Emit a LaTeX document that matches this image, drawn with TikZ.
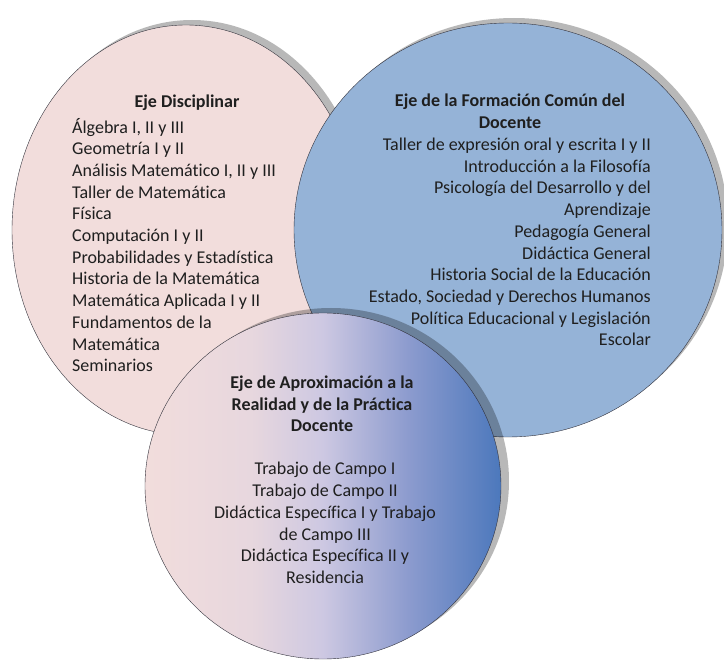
\documentclass[tikz,border=0pt]{standalone}
\usepackage{fontspec}
\setmainfont{Carlito}[Ligatures=NoCommon]
\usetikzlibrary{shapes,shadows}

\definecolor{ejepink}{RGB}{242,221,220}
\definecolor{ejeblue}{RGB}{149,179,215}
\definecolor{ejelav}{RGB}{205,200,226}
\definecolor{ejemid}{RGB}{140,155,206}
\definecolor{ejedark}{RGB}{76,120,188}
\definecolor{ejeline}{RGB}{50,50,60}

\pgfdeclarehorizontalshading{aproxfill}{100bp}{color(0bp)=(ejepink); color(25bp)=(ejepink); color(40bp)=(ejepink!70!ejelav); color(50bp)=(ejelav); color(62bp)=(ejemid); color(75bp)=(ejedark); color(100bp)=(ejedark)}

\tikzset{
  ejetext/.style={font=\fontsize{18}{21.7}\selectfont, text=black!88, inner sep=0pt},
  ejetitle/.style={ejetext, font=\fontsize{18}{21.7}\selectfont\bfseries},
}

\begin{document}
\begin{tikzpicture}[x=1pt, y=-1pt]

    \useasboundingbox[fill=white] (0,0) rectangle (724,663);

    % the three axes
    \node[draw=ejeline,ellipse,fill=ejepink,inner sep=0pt,minimum width=348pt,minimum height=410pt,
          drop shadow={shadow xshift=6pt,shadow yshift=5pt,fill=black,opacity=.28}] (disc) at (186,230) {};
    \node[draw=ejeline,ellipse,fill=ejeblue,inner sep=0pt,minimum width=428pt,minimum height=414pt,
          drop shadow={shadow xshift=6pt,shadow yshift=5pt,fill=black,opacity=.28}] (comun) at (508,230) {};
    \node[draw=ejeline,ellipse,shade,shading=aproxfill,inner sep=0pt,minimum width=356pt,minimum height=346pt,
          drop shadow={shadow xshift=8pt,shadow yshift=5pt,fill=black,opacity=.28}] (aprox) at (323,486) {};

    % Eje Disciplinar
    \node[ejetitle] (dtitle) at (187,103) {Eje Disciplinar};
    \node[ejetext,align=left,anchor=west] (dlist) at (72,245)
      {Álgebra I, II y III\\Geometría I y II\\Análisis Matemático I, II y III\\Taller de Matemática\\Física\\
       Computación I y II\\Probabilidades y Estadística\\Historia de la Matemática\\Matemática Aplicada I y II\\
       Fundamentos de la\\Matemática\\Seminarios};

    % Eje de la Formacion Comun
    \node[ejetitle,align=center] (ctitle) at (510,111) {Eje de la Formación Común del\\Docente};
    \node[ejetext,align=right,anchor=east] (clist) at (651,242)
      {Taller de expresión oral y escrita I y II\\Introducción a la Filosofía\\Psicología del Desarrollo y del\\
       Aprendizaje\\Pedagogía General\\Didáctica General\\Historia Social de la Educación\\
       Estado, Sociedad y Derechos Humanos\\Política Educacional y Legislación\\Escolar};

    % Eje de Aproximacion
    \node[ejetitle,align=center] (atitle) at (322,404) {Eje de Aproximación a la\\Realidad y de la Práctica\\Docente};
    \node[ejetext,align=center] (alist) at (325,523)
      {Trabajo de Campo I\\Trabajo de Campo II\\Didáctica Específica I y Trabajo\\de Campo III\\
       Didáctica Específica II y\\Residencia};

\end{tikzpicture}
\end{document}
